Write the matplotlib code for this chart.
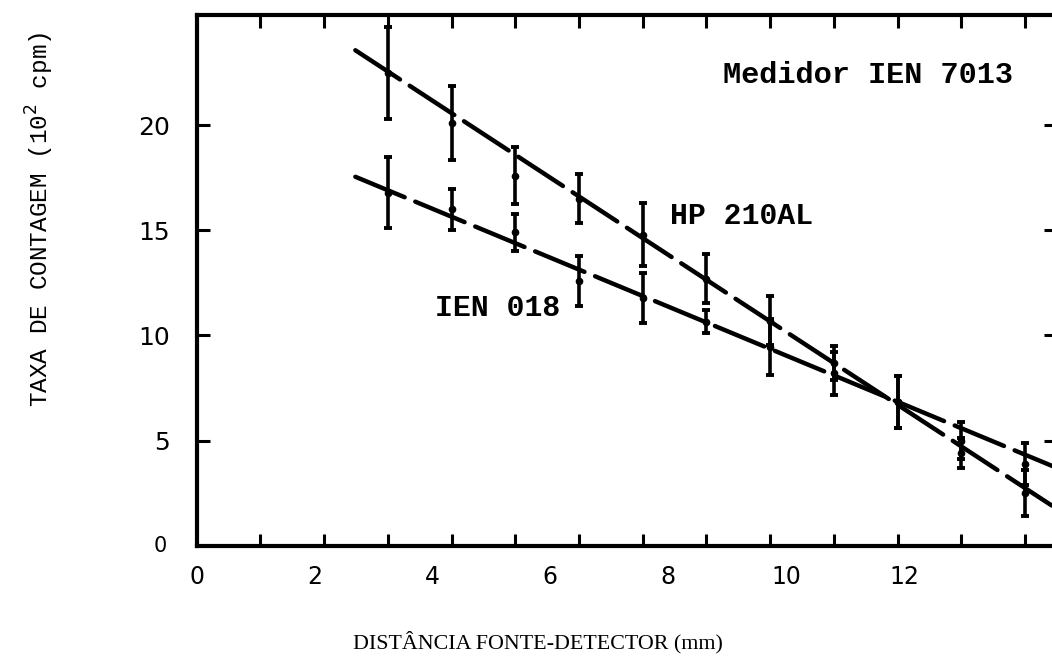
import numpy as np
from matplotlib import pyplot as plt

# distancia fonte-detector (mm)
dist = [3, 4, 5, 6, 7, 8, 9, 10, 11, 12, 13]

# HP 210AL
hp = [22.5, 20.1, 17.6, 16.5, 14.8, 12.7, 10.7, 8.7, 6.85, 4.4, 2.5]
hp_err = [2.2, 1.75, 1.35, 1.17, 1.5, 1.17, 1.16, 0.8, 1.23, 0.72, 1.1]
# IEN 018
ien = [16.8, 16.0, 14.9, 12.6, 11.8, 10.65, 9.45, 8.2, 6.85, 5.0, 3.9]
ien_err = [1.68, 0.99, 0.89, 1.19, 1.19, 0.55, 1.35, 1.03, 1.23, 0.9, 1.0]

# retas ajustadas (extremos)
fit_x = [2.49, 13.5]
hp_fit = [23.57, 1.75]
ien_fit = [17.55, 3.7]

xlabels = [0, 2, 4, 6, 8, 10, 12]
yticks = [5, 10, 15, 20]

fig = plt.figure(figsize=(10.52, 6.59), dpi=100)
ax = fig.add_axes([0.187, 0.172, 0.817, 0.805])

for fy in (hp_fit, ien_fit):
    ax.plot(fit_x, fy, color='k', lw=3.2, dashes=(12, 2.6), dash_capstyle='round')

for yy, ee in ((hp, hp_err), (ien, ien_err)):
    ax.errorbar(dist, yy, yerr=ee, fmt='o', color='k', ms=4.5, elinewidth=2.6,
                capsize=3, capthick=2.8)

ax.set_xlim(0, 13.49)
ax.set_ylim(0, 25.24)

for s in ax.spines.values():
    s.set_linewidth(3)

ax.set_xticks(np.arange(1, 14))
ax.tick_params(axis='x', which='both', direction='in', length=9, width=2.2,
               top=True, labelbottom=False)
ax.set_yticks(yticks)
ax.tick_params(axis='y', direction='in', length=9, width=2.2, right=True,
               labelsize=18, pad=19)
ax.set_yticklabels([str(v) for v in yticks], fontfamily='DejaVu Sans')

# labels of the x scale (as in the original, not aligned with the tick marks)
sec = ax.secondary_xaxis('bottom', functions=(lambda x: x / 0.925, lambda x: x * 0.925))
sec.set_xticks(xlabels)
sec.tick_params(length=0, labelsize=17, pad=14)
sec.spines['bottom'].set_visible(False)

fig.text(0.152, 0.172, '0', fontsize=15, ha='center', va='center')

ax.text(8.26, 22.38, 'Medidor IEN 7013', fontsize=21.8, fontweight='bold',
        family='Liberation Mono', va='center')
ax.text(7.43, 15.7, 'HP 210AL', fontsize=21.5, fontweight='bold',
        family='Liberation Mono', va='center')
ax.text(3.74, 11.3, 'IEN 018', fontsize=21.5, fontweight='bold',
        family='Liberation Mono', va='center')

fig.text(0.511, 0.025, 'DISTÂNCIA FONTE-DETECTOR (mm)', fontsize=15.8,
         family='Liberation Serif', ha='center', va='center')
fig.text(0.038, 0.668, 'TAXA DE CONTAGEM (10$^2$ cpm)', fontsize=17.6,
         family='Liberation Mono', rotation=90, ha='center', va='center')

plt.savefig('out.png', dpi=100)
